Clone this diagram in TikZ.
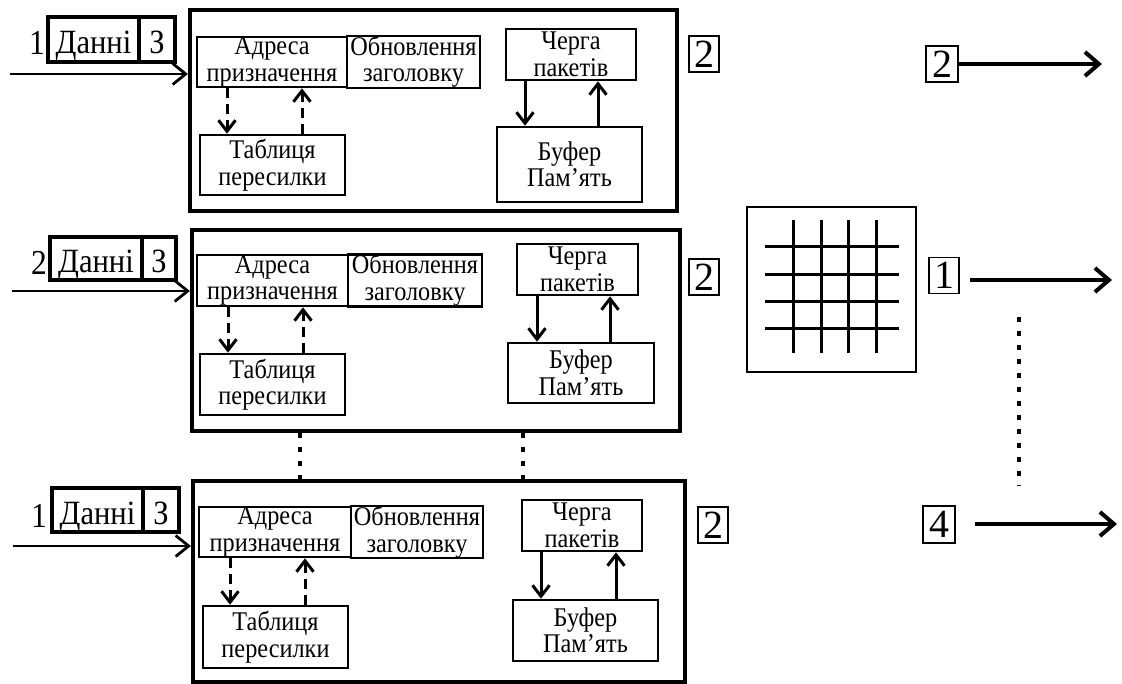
\documentclass[tikz,border=0pt]{standalone}
\usepackage{fontspec}
\setmainfont{Liberation Serif}
\newfontfamily\narrowserif[FakeStretch=0.9]{Liberation Serif}
\usetikzlibrary{arrows.meta}
\begin{document}
\begin{tikzpicture}[x=1pt,y=-1pt,
  inner/.style={draw, line width=2.6pt, inner sep=0pt, align=center, font={\narrowserif\fontsize{27}{26.5}\selectfont}},
  block/.style={draw, line width=4.2pt, inner sep=0pt},
  pkt/.style={draw, line width=4.2pt, inner sep=0pt, text height=28pt, text depth=0pt, font={\narrowserif\fontsize{34}{34}\selectfont}},
  portno/.style={draw, line width=1.8pt, inner sep=0pt, minimum width=30pt, minimum height=36pt, font={\fontsize{40}{40}\selectfont}},
  inlabel/.style={inner sep=0pt, font={\narrowserif\fontsize{35}{35}\selectfont}},
  feed/.style={line width=2.8pt, -{Straight Barb[length=13pt,width=21pt]}},
  lookup/.style={line width=3pt, dash pattern=on 10pt off 6pt, -{Straight Barb[length=11pt,width=17pt]}},
  qarr/.style={line width=3pt, -{Straight Barb[length=11pt,width=17pt]}},
  outarr/.style={line width=4pt, -{Straight Barb[length=14pt,width=24pt]}},
  dots/.style={line width=3.5pt, dash pattern=on 5pt off 9pt},
  grid line/.style={line width=3pt},
]
\useasboundingbox (0,0) rectangle (1122,684);

% ---------- input port 1 ----------
\node[block, minimum width=487pt, minimum height=201pt] (b1) at (433.5,110.5) {};
\node[inner, minimum width=150pt, minimum height=50pt] (a1) at (272,62) {Адреса\\призначення};
\node[inner, minimum width=133pt, minimum height=50pt] (u1) at (413.5,62) {Обновлення\\заголовку};
\node[inner, minimum width=145pt, minimum height=60pt] (t1) at (272.5,165) {Таблиця\\пересилки};
\node[inner, minimum width=130pt, minimum height=51pt] (q1) at (571,54.5) {Черга\\пакетів};
\node[inner, minimum width=145pt, minimum height=75pt] (m1) at (569.5,164.5) {Буфер\\Пам’ять};
\node[portno] (n1) at (704,54) {2};
\node[pkt, minimum width=91pt, minimum height=45pt] (d1) at (93.5,39.5) {Данні};
\node[pkt, minimum width=36pt, minimum height=45pt] (h1) at (157,39.5) {З};
\node[inlabel, anchor=base east] (l1) at (45,55) {1};
\coordinate (s1) at (10,74);
\draw[feed] (s1) -- (s1 -| b1.west);
\draw[lookup] (a1.south -| 227,0) -- (t1.north -| 227,0);
\draw[lookup] (t1.north -| 302,0) -- (a1.south -| 302,0);
\draw[qarr] (q1.south -| 525,0) -- (m1.north -| 525,0);
\draw[qarr] (m1.north -| 598,0) -- (q1.south -| 598,0);

% ---------- input port 2 ----------
\node[block, minimum width=488pt, minimum height=201pt] (b2) at (436,330.5) {};
\node[inner, minimum width=151pt, minimum height=51pt] (a2) at (272.5,280.5) {Адреса\\призначення};
\node[inner, minimum width=134pt, minimum height=51pt] (u2) at (415,280.5) {Обновлення\\заголовку};
\node[inner, minimum width=145pt, minimum height=61pt] (t2) at (272.5,384.5) {Таблиця\\пересилки};
\node[inner, minimum width=121pt, minimum height=51pt] (q2) at (577.5,269.5) {Черга\\пакетів};
\node[inner, minimum width=146pt, minimum height=60pt] (m2) at (581,373) {Буфер\\Пам’ять};
\node[portno] (n2) at (704,277) {2};
\node[pkt, minimum width=92pt, minimum height=43pt] (d2) at (96,258.5) {Данні};
\node[pkt, minimum width=34pt, minimum height=43pt] (h2) at (159,258.5) {З};
\node[inlabel, anchor=base east] (l2) at (47,275) {2};
\coordinate (s2) at (12,291);
\draw[feed] (s2) -- (s2 -| b2.west);
\draw[lookup] (a2.south -| 228,0) -- (t2.north -| 228,0);
\draw[lookup] (t2.north -| 303,0) -- (a2.south -| 303,0);
\draw[qarr] (q2.south -| 537,0) -- (m2.north -| 537,0);
\draw[qarr] (m2.north -| 610,0) -- (q2.south -| 610,0);

% ---------- input port N ----------
\node[block, minimum width=492pt, minimum height=201pt] (b3) at (439,581.5) {};
\node[inner, minimum width=152pt, minimum height=50pt] (a3) at (275,532) {Адреса\\призначення};
\node[inner, minimum width=132pt, minimum height=50pt] (u3) at (417,532) {Обновлення\\заголовку};
\node[inner, minimum width=145pt, minimum height=62pt] (t3) at (275.5,637) {Таблиця\\пересилки};
\node[inner, minimum width=120pt, minimum height=51pt] (q3) at (582,525.5) {Черга\\пакетів};
\node[inner, minimum width=145pt, minimum height=61pt] (m3) at (585.5,630.5) {Буфер\\Пам’ять};
\node[portno] (n3) at (713,525) {2};
\node[pkt, minimum width=91pt, minimum height=44pt] (d3) at (97.5,510) {Данні};
\node[pkt, minimum width=36pt, minimum height=44pt] (h3) at (161,510) {З};
\node[inlabel, anchor=base east] (l3) at (47,527) {1};
\coordinate (s3) at (13,546);
\draw[feed] (s3) -- (s3 -| b3.west);
\draw[lookup] (a3.south -| 230,0) -- (t3.north -| 230,0);
\draw[lookup] (t3.north -| 305,0) -- (a3.south -| 305,0);
\draw[qarr] (q3.south -| 541,0) -- (m3.north -| 541,0);
\draw[qarr] (m3.north -| 616,0) -- (q3.south -| 616,0);

% ellipsis between port blocks
\draw[dots] (b2.south -| 300,0) -- (b3.north -| 300,0);
\draw[dots] (b2.south -| 523,0) -- (b3.north -| 523,0);

% ---------- switching fabric ----------
\node[draw, line width=1.2pt, minimum width=169pt, minimum height=165pt, inner sep=0pt] (sw) at (831.5,289.5) {};
\foreach \gx in {793,821,848,876} \draw[grid line] (\gx,220) -- (\gx,353);
\foreach \gy in {247,275,302,329} \draw[grid line] (765,\gy) -- (899,\gy);

% ---------- output ports ----------
\node[portno, minimum width=32pt] (o2) at (942,64) {2};
\coordinate (e2) at (1102,64);
\draw[outarr] (o2.east) -- (e2);

\node[portno] (o1) at (944,275.5) {1};
\coordinate (f1) at (970,280);
\coordinate (e1) at (1112,280);
\draw[outarr] (f1) -- (e1);

\coordinate (v1) at (1019,317);
\coordinate (v2) at (1019,486);
\draw[dots] (v1) -- (v2);

\node[portno, minimum width=32pt, minimum height=37pt] (o4) at (939,524.5) {4};
\coordinate (f4) at (975,524);
\coordinate (e4) at (1117,524);
\draw[outarr] (f4) -- (e4);
\end{tikzpicture}
\end{document}
